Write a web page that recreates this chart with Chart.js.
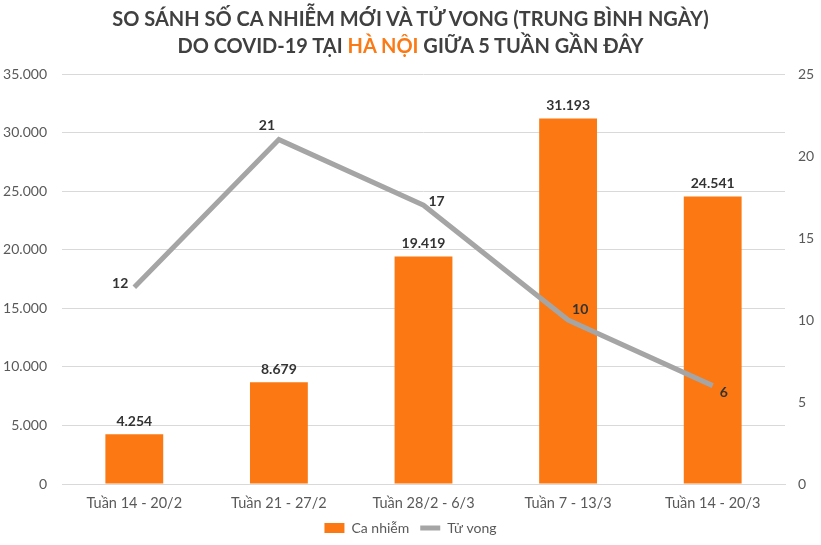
<!DOCTYPE html>
<html>
<head>
<meta charset="utf-8">
<script src="https://cdn.jsdelivr.net/npm/chart.js@4"></script>
<style>
  html, body { margin: 0; padding: 0; background: #fff; }
  #wrap { position: relative; width: 821px; height: 545px; }
  #title {
    position: absolute; left: 0; top: 5px; width: 821px;
    text-align: center; font: bold 20px Lato, sans-serif; line-height: 27px;
    color: #404040; z-index: 2;
  }
  #title span { color: #fb7a15; }
  canvas { position: absolute; left: 0; top: 0; }
</style>
</head>
<body>
<div id="wrap">
  <div id="title">SO SÁNH SỐ CA NHIỄM MỚI VÀ TỬ VONG (TRUNG BÌNH NGÀY)<br>DO COVID-19 TẠI <span>HÀ NỘI</span> GIỮA 5 TUẦN GẦN ĐÂY</div>
  <canvas id="chart" width="821" height="545"></canvas>
</div>
<script>
// dữ liệu
const weeks = ['Tuần 14 - 20/2', 'Tuần 21 - 27/2', 'Tuần 28/2 - 6/3', 'Tuần 7 - 13/3', 'Tuần 14 - 20/3'];
const newCases = [4254, 8679, 19419, 31193, 24541];
const deaths = [12, 21, 17, 10, 6];

// vị trí nhãn của đường tử vong (dx, dy, canh lề)
const deathLabelPos = [
  { dx: -6, dy: -4, align: 'right' },
  { dx: -12, dy: -14, align: 'center' },
  { dx: 5, dy: -4, align: 'left' },
  { dx: 4, dy: -11, align: 'left' },
  { dx: 7, dy: 7, align: 'left' }
];

const orange = '#fb7812';
const grey = '#a5a5a5';
const textColor = '#595959';
const fontFamily = 'Lato, sans-serif';

function formatDots(v) {
  return String(v).replace(/\B(?=(\d{3})+(?!\d))/g, '.');
}

// nhãn giá trị trên cột và trên đường
const labelPlugin = {
  id: 'valueLabels',
  afterDatasetsDraw(chart) {
    const ctx = chart.ctx;
    ctx.save();
    ctx.font = 'bold 14px ' + fontFamily;
    ctx.fillStyle = '#333333';
    ctx.textBaseline = 'middle';
    chart.data.datasets.forEach((ds, di) => {
      const meta = chart.getDatasetMeta(di);
      meta.data.forEach((el, i) => {
        const txt = formatDots(ds.data[i]);
        if (ds.type === 'bar') {
          ctx.textAlign = 'center';
          ctx.fillText(txt, el.x, el.y - 13);
        } else {
          const p = deathLabelPos[i];
          ctx.textAlign = p.align;
          ctx.fillText(txt, el.x + p.dx, el.y + p.dy);
        }
      });
    });
    ctx.restore();
  }
};

new Chart(document.getElementById('chart'), {
  data: {
    labels: weeks,
    datasets: [
      {
        type: 'line',
        label: 'Tử vong',
        data: deaths,
        yAxisID: 'y1',
        borderColor: grey,
        backgroundColor: grey,
        borderWidth: 5,
        pointRadius: 0,
        pointStyle: 'line',
        tension: 0,
        order: 0
      },
      {
        type: 'bar',
        label: 'Ca nhiễm',
        data: newCases,
        yAxisID: 'y',
        backgroundColor: orange,
        pointStyle: 'rect',
        categoryPercentage: 0.4,
        barPercentage: 1,
        order: 1
      }
    ]
  },
  options: {
    responsive: false,
    animation: false,
    layout: { padding: { top: 74, left: 0, right: 0, bottom: 0 } },
    plugins: {
      legend: {
        position: 'bottom',
        reverse: true,
        labels: {
          usePointStyle: true,
          pointStyleWidth: 20,
          boxHeight: 10,
          color: textColor,
          font: { family: fontFamily, size: 14 },
          padding: 11
        }
      },
      tooltip: { enabled: false }
    },
    scales: {
      x: {
        grid: { display: false },
        border: { color: '#d9d9d9' },
        ticks: { color: textColor, font: { family: fontFamily, size: 14.5 }, padding: 3, maxRotation: 0 },
        afterFit: s => { s.height = 26; }
      },
      y: {
        position: 'left',
        min: 0,
        max: 35000,
        ticks: {
          stepSize: 5000,
          color: textColor,
          font: { family: fontFamily, size: 14 },
          padding: 15,
          callback: v => formatDots(v)
        },
        grid: { color: '#d9d9d9', drawTicks: false },
        border: { display: false },
        afterFit: s => { s.width = 62; }
      },
      y1: {
        position: 'right',
        min: 0,
        max: 25,
        ticks: {
          stepSize: 5,
          color: textColor,
          font: { family: fontFamily, size: 14 },
          padding: 13
        },
        grid: { display: false, drawTicks: false },
        border: { display: false },
        afterFit: s => { s.width = 36; }
      }
    }
  },
  plugins: [labelPlugin]
});
</script>
</body>
</html>
